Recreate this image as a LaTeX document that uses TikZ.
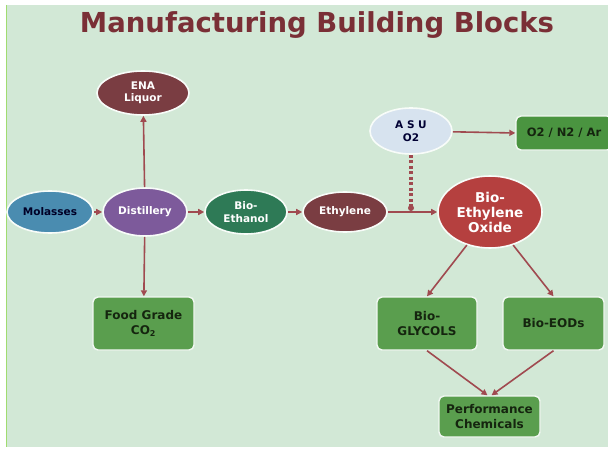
\documentclass[tikz,border=0pt]{standalone}
\usepackage{fontspec}
\setmainfont{DejaVu Sans}
\usetikzlibrary{arrows.meta,shapes.geometric}
\definecolor{bgc}{HTML}{D2E8D6}
\definecolor{edgec}{HTML}{A0DC70}
\definecolor{titlec}{HTML}{7A2F36}
\definecolor{brownc}{HTML}{7A3D42}
\definecolor{bluec}{HTML}{4A8CB0}
\definecolor{purplec}{HTML}{7D5A9B}
\definecolor{darkgreenc}{HTML}{2E7A56}
\definecolor{asuc}{HTML}{D7E3EF}
\definecolor{eoc}{HTML}{B5403F}
\definecolor{boxc}{HTML}{5A9E4E}
\definecolor{gasc}{HTML}{4A9440}
\definecolor{boxtxt}{HTML}{15250F}
\definecolor{arrowc}{HTML}{A04A50}
\tikzset{
  oval/.style={ellipse, draw=white!85!bgc, line width=1.6pt, inner sep=0pt, align=center, font=\bfseries\fontsize{10.5}{12.5}\selectfont},
  gbox/.style={rectangle, rounded corners=5pt, fill=boxc, draw=white!70!bgc, line width=1.4pt, align=center, text=boxtxt, font=\bfseries\fontsize{12}{15}\selectfont},
  conn/.style={draw=arrowc, line width=1.6pt, -{Triangle[length=6pt,width=6pt]}},
}
\begin{document}
\begin{tikzpicture}[x=1pt,y=-1pt]
\useasboundingbox (0,0) rectangle (608,452);
\fill[white] (0,0) rectangle (608,452);
\fill[bgc] (6,5) rectangle (608,447);
\draw[edgec, line width=1.5pt] (6.5,5) -- (6.5,447);
\node[text=titlec, font=\bfseries\fontsize{27.5}{30}\selectfont] (title) at (317,25) {Manufacturing Building Blocks};
% ovals
\node[oval, fill=brownc, text=white, minimum width=92pt, minimum height=44pt] (ena) at (143,93) {ENA\\Liquor};
\node[oval, fill=bluec, text=black!85!blue, minimum width=86pt, minimum height=42pt] (mol) at (50,212) {Molasses};
\node[oval, fill=purplec, text=white, minimum width=84pt, minimum height=48pt] (dist) at (145,212) {Distillery};
\node[oval, fill=darkgreenc, text=white, minimum width=82pt, minimum height=44pt] (eth) at (246,212) {Bio-\\Ethanol};
\node[oval, fill=brownc, text=white, minimum width=84pt, minimum height=40pt] (ethy) at (345,212) {Ethylene};
\node[oval, fill=asuc, text=black!80!blue, minimum width=82pt, minimum height=46pt] (asu) at (411,131) {A S U\\O2};
\node[oval, fill=eoc, text=white, minimum width=104pt, minimum height=72pt, font=\bfseries\fontsize{13.5}{15}\selectfont] (eo) at (490,212) {Bio-\\Ethylene\\Oxide};
% boxes
\node[gbox, minimum width=96pt, minimum height=34pt, fill=gasc, font=\bfseries\fontsize{11.5}{14}\selectfont] (gas) at (564,133) {O2 / N2 / Ar};
\node[gbox, minimum width=101pt, minimum height=53pt] (food) at (143.5,323.5) {Food Grade\\CO\textsubscript{2}};
\node[gbox, minimum width=100pt, minimum height=53pt] (gly) at (427,323.5) {Bio-\\GLYCOLS};
\node[gbox, minimum width=101pt, minimum height=53pt] (eods) at (553.5,323.5) {Bio-EODs};
\node[gbox, minimum width=101pt, minimum height=41pt, inner sep=2pt] (perf) at (489.5,416.5) {Performance\\Chemicals};
% connectors
\draw[conn] (mol) -- (dist);
\draw[conn] (dist) -- (ena);
\draw[conn] (dist) -- (food);
\draw[conn] (dist) -- (eth);
\draw[conn] (eth) -- (ethy);
\draw[conn] (ethy) -- (eo);
\draw[conn] (asu) -- (gas.west);
\coordinate (join) at (411,208);
\draw[draw=arrowc, line width=3.5pt, dash pattern=on 3pt off 2.5pt] (asu.south) -- (join);
\fill[arrowc] (join) circle (3pt);
\draw[conn] (eo.235) -- (gly.north);
\draw[conn] (eo.-55) -- (eods.north);
\draw[conn] (gly.south) -- ([xshift=-2pt]perf.north);
\draw[conn] (eods.south) -- ([xshift=2pt]perf.north);
\end{tikzpicture}
\end{document}
